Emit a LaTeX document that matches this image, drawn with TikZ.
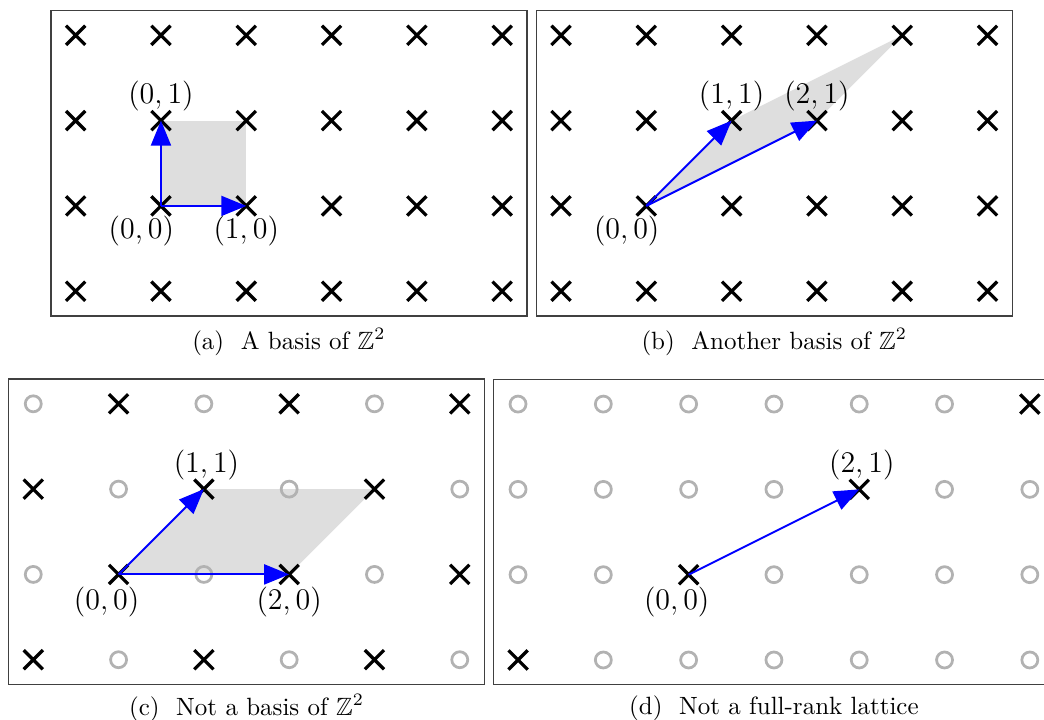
\documentclass[tikz,border=0pt]{standalone}
\usepackage{amssymb}
\usetikzlibrary{arrows.meta,shapes.misc,calc,backgrounds}

\begin{document}
\begin{tikzpicture}[x=1.2cm,y=1.2cm,
  lp/.style={cross out,draw,line width=1.3pt,minimum size=6.4pt,inner sep=0pt},
  np/.style={circle,draw=black!30,line width=1.1pt,minimum size=6.4pt,inner sep=0pt},
  mk0/.style={lp},mk1/.style={np},
  frm/.style={draw=black!75,line width=0.6pt},
  vec/.style={-{Triangle[length=10pt,width=8pt]},blue,line width=0.8pt},
  cell/.style={fill=black!13},
  lbl/.style={font=\large},
  subcap/.style={font=\normalsize}]
  \clip (0,0) rectangle (12.239,-8.429);
  % (a) the standard basis
  \begin{scope}[shift={(0.887,-3.414)}]
    \draw[frm] (-0.29,-0.29) rectangle (5.29,3.29);
    \foreach \i in {0,...,5} \foreach \j in {0,...,3}
      \node[lp] (a\i\j) at (\i,\j) {};
    \begin{scope}[on background layer]
      \fill[cell] (a11.center) -- (a21.center) -- (a22.center) -- (a12.center) -- cycle;
    \end{scope}
    \draw[vec] (a11.center) -- (a21.center);
    \draw[vec] (a11.center) -- (a12.center);
    \node[lbl] (a00l) at ($(a11)+(-0.23,-0.29)$) {$(0,0)$};
    \node[lbl] (a10l) at ($(a21)+(0,-0.29)$) {$(1,0)$};
    \node[lbl] (a01l) at ($(a12)+(0,0.29)$) {$(0,1)$};
    \node[subcap] (capa) at (2.5,-0.595) {(a)\ \ A basis of $\mathbb{Z}^2$};
  \end{scope}
  % (b) another basis
  \begin{scope}[shift={(6.577,-3.414)}]
    \draw[frm] (-0.29,-0.29) rectangle (5.29,3.29);
    \foreach \i in {0,...,5} \foreach \j in {0,...,3}
      \node[lp] (b\i\j) at (\i,\j) {};
    \begin{scope}[on background layer]
      \fill[cell] (b11.center) -- (b22.center) -- (b43.center) -- (b32.center) -- cycle;
    \end{scope}
    \draw[vec] (b11.center) -- (b22.center);
    \draw[vec] (b11.center) -- (b32.center);
    \node[lbl] (b00l) at ($(b11)+(-0.23,-0.29)$) {$(0,0)$};
    \node[lbl] (b11l) at ($(b22)+(0,0.29)$) {$(1,1)$};
    \node[lbl] (b21l) at ($(b32)+(0,0.29)$) {$(2,1)$};
    \node[subcap] (capb) at (2.5,-0.595) {(b)\ \ Another basis of $\mathbb{Z}^2$};
  \end{scope}
  % (c) a sublattice
  \begin{scope}[shift={(0.390,-7.734)}]
    \draw[frm] (-0.29,-0.29) rectangle (5.29,3.29);
    \foreach \i in {0,...,5} \foreach \j in {0,...,3} {
      \pgfmathtruncatemacro\k{mod(\i+\j,2)}
      \node[mk\k] (c\i\j) at (\i,\j) {};
    }
    \begin{scope}[on background layer]
      \fill[cell] (c11.center) -- (c31.center) -- (c42.center) -- (c22.center) -- cycle;
    \end{scope}
    \draw[vec] (c11.center) -- (c22.center);
    \draw[vec] (c11.center) -- (c31.center);
    \node[lbl] (c00l) at ($(c11)+(-0.14,-0.32)$) {$(0,0)$};
    \node[lbl] (c20l) at ($(c31)+(0,-0.32)$) {$(2,0)$};
    \node[lbl] (c11l) at ($(c22)+(0.03,0.28)$) {$(1,1)$};
    \node[subcap] (capc) at (2.5,-0.566) {(c)\ \ Not a basis of $\mathbb{Z}^2$};
  \end{scope}
  % (d) rank one
  \begin{scope}[shift={(6.073,-7.737)}]
    \draw[frm] (-0.29,-0.29) rectangle (6.29,3.29);
    \foreach \i in {0,...,6} \foreach \j in {0,...,3} {
      \pgfmathtruncatemacro\k{\i!=2*\j}
      \node[mk\k] (d\i\j) at (\i,\j) {};
    }
    \draw[vec] (d21.center) -- (d42.center);
    \node[lbl] (d00l) at ($(d21)+(-0.14,-0.32)$) {$(0,0)$};
    \node[lbl] (d21l) at ($(d42)+(0.03,0.28)$) {$(2,1)$};
    \node[subcap] (capd) at (3,-0.566) {(d)\ \ Not a full-rank lattice};
  \end{scope}
\end{tikzpicture}
\end{document}
